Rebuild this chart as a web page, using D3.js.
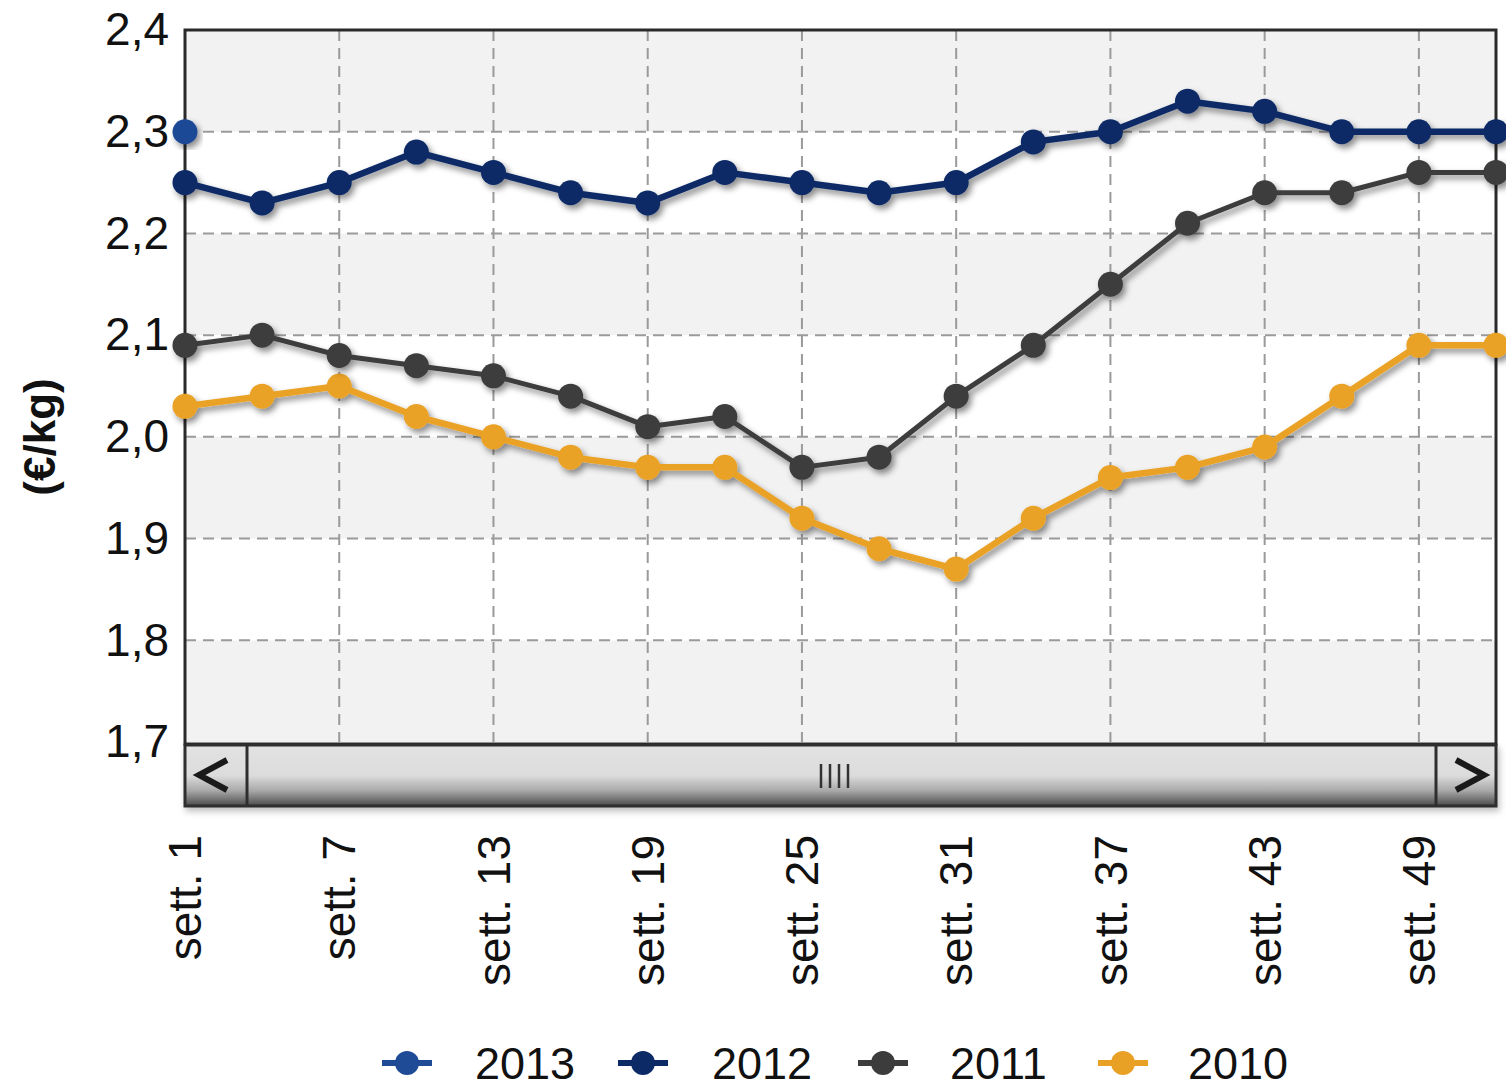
<!DOCTYPE html>
<html><head><meta charset="utf-8">
<script src="https://cdn.jsdelivr.net/npm/d3@7"></script>
<style>
html,body{margin:0;padding:0;background:#fff;}
svg{display:block;font-family:"Liberation Sans",Arial,sans-serif;}
</style></head>
<body>
<svg id="c" width="1506" height="1088"></svg>
<script>
const weeks = [1,4,7,10,13,16,19,22,25,28,31,34,37,40,43,46,49,52];
const s2013 = [2.30];
const s2012 = [2.25,2.23,2.25,2.28,2.26,2.24,2.23,2.26,2.25,2.24,2.25,2.29,2.30,2.33,2.32,2.30,2.30,2.30];
const s2011 = [2.09,2.10,2.08,2.07,2.06,2.04,2.01,2.02,1.97,1.98,2.04,2.09,2.15,2.21,2.24,2.24,2.26,2.26];
const s2010 = [2.03,2.04,2.05,2.02,2.00,1.98,1.97,1.97,1.92,1.89,1.87,1.92,1.96,1.97,1.99,2.04,2.09,2.09];
const yTicks = [1.7,1.8,1.9,2.0,2.1,2.2,2.3,2.4];
const xTicks = [1,7,13,19,25,31,37,43,49];
const seriesNames = ["2013","2012","2011","2010"];
const colors = {"2013":"#1f4a96","2012":"#0b2a66","2011":"#3c3c3c","2010":"#e9a125"};
const yTitle = "(€/kg)";

const svg = d3.select("#c");
const L=185, R=1496, T=30, B=742;
const x = d3.scaleLinear().domain([1,52]).range([L,R]);
const y = d3.scaleLinear().domain([1.7,2.4]).range([B,T]);

const defs = svg.append("defs");
const f = defs.append("filter").attr("id","sh").attr("x","-20%").attr("y","-20%").attr("width","140%").attr("height","140%");
f.append("feDropShadow").attr("dx",3).attr("dy",4).attr("stdDeviation",3).attr("flood-color","#000").attr("flood-opacity",0.45);
const g1 = defs.append("linearGradient").attr("id","sb").attr("x1",0).attr("y1",0).attr("x2",0).attr("y2",1);
g1.append("stop").attr("offset","0%").attr("stop-color","#e2e2e2");
g1.append("stop").attr("offset","50%").attr("stop-color","#dcdcdc");
g1.append("stop").attr("offset","75%").attr("stop-color","#a8a8a8");
g1.append("stop").attr("offset","100%").attr("stop-color","#4a4a4a");
const fs = defs.append("filter").attr("id","sbsh").attr("x","-5%").attr("y","-20%").attr("width","110%").attr("height","160%");
fs.append("feDropShadow").attr("dx",2).attr("dy",4).attr("stdDeviation",3).attr("flood-color","#000").attr("flood-opacity",0.25);

// bands
for(let i=0;i<yTicks.length-1;i++){
  const lo=yTicks[i], hi=yTicks[i+1];
  svg.append("rect").attr("x",L).attr("y",y(hi)).attr("width",R-L).attr("height",y(lo)-y(hi))
    .attr("fill", (i%2===0)?"#f2f2f2":"#ffffff");
}
// grid
svg.append("g").selectAll("line").data(yTicks.slice(1,-1)).join("line")
  .attr("x1",L).attr("x2",R).attr("y1",d=>y(d)).attr("y2",d=>y(d))
  .attr("stroke","#9a9a9a").attr("stroke-width",2).attr("stroke-dasharray","11,7");
svg.append("g").selectAll("line").data(xTicks.slice(1)).join("line")
  .attr("x1",d=>x(d)).attr("x2",d=>x(d)).attr("y1",T).attr("y2",B)
  .attr("stroke","#9a9a9a").attr("stroke-width",2).attr("stroke-dasharray","11,7");
// border
svg.append("rect").attr("x",L).attr("y",T).attr("width",R-L).attr("height",B-T+2)
  .attr("fill","none").attr("stroke","#2a2a2a").attr("stroke-width",3);

// y axis labels
const yAxis = d3.axisLeft(y).tickValues(yTicks).tickSize(0).tickPadding(16)
  .tickFormat(d=>d3.format(".1f")(d).replace(".",","));
const ya = svg.append("g").attr("transform",`translate(${L},0)`).call(yAxis);
ya.select(".domain").remove();
ya.selectAll("text").attr("font-size",46).attr("fill","#111").attr("font-family","'Liberation Sans',Arial,sans-serif");

// y title
svg.append("text").attr("transform","translate(40,437) rotate(-90)").attr("text-anchor","middle")
  .attr("dy","0.35em").attr("font-size",44).attr("font-weight","bold").attr("fill","#111").text(yTitle);

// scrollbar
const sbT=745, sbB=806;
const sb = svg.append("g");
sb.append("rect").attr("x",L).attr("y",sbT).attr("width",R-L).attr("height",sbB-sbT)
  .attr("fill","url(#sb)").attr("stroke","#2e2e2e").attr("stroke-width",3).attr("filter","url(#sbsh)");
sb.append("line").attr("x1",247).attr("x2",247).attr("y1",sbT).attr("y2",sbB).attr("stroke","#2e2e2e").attr("stroke-width",3);
sb.append("line").attr("x1",1436).attr("x2",1436).attr("y1",sbT).attr("y2",sbB).attr("stroke","#2e2e2e").attr("stroke-width",3);
sb.append("path").attr("d","M227,760 L199,775 L227,790").attr("fill","none").attr("stroke","#1a1a1a").attr("stroke-width",6);
sb.append("path").attr("d","M1456,760 L1484,775 L1456,790").attr("fill","none").attr("stroke","#1a1a1a").attr("stroke-width",6);
[821,830,839,848].forEach(gx=>{
  sb.append("line").attr("x1",gx).attr("x2",gx).attr("y1",764).attr("y2",788).attr("stroke","#333").attr("stroke-width",2.5);
});

// x labels
const xa = svg.append("g");
xa.selectAll("text").data(xTicks).join("text")
  .attr("transform",d=>`translate(${x(d)},835) rotate(-90)`)
  .attr("text-anchor","end").attr("dy","0.35em").attr("font-size",46).attr("fill","#111")
  .text(d=>"sett. "+d);

// series
const data = {"2013":s2013,"2012":s2012,"2011":s2011,"2010":s2010};
const widths = {"2013":6,"2012":6.5,"2011":5,"2010":6.5};
const line = d3.line().x(d=>x(d.w)).y(d=>y(d.v));
["2010","2011","2012","2013"].forEach(name=>{
  const pts = data[name].map((v,i)=>({w:weeks[i],v:v}));
  const g = svg.append("g").attr("filter","url(#sh)");
  if(pts.length>1){
    g.append("path").datum(pts).attr("d",line).attr("fill","none")
      .attr("stroke",colors[name]).attr("stroke-width",widths[name]).attr("stroke-linejoin","round");
  }
  g.selectAll("circle").data(pts).join("circle").attr("cx",d=>x(d.w)).attr("cy",d=>y(d.v))
    .attr("r",12.5).attr("fill",colors[name]);
});

// legend
const legX = [382,618,858,1098];
const leg = svg.append("g");
seriesNames.forEach((name,i)=>{
  const lx = legX[i], ly = 1063;
  const gg = leg.append("g");
  gg.append("line").attr("x1",lx).attr("x2",lx+50).attr("y1",ly).attr("y2",ly).attr("stroke",colors[name]).attr("stroke-width",6);
  gg.append("circle").attr("cx",lx+25).attr("cy",ly).attr("r",12).attr("fill",colors[name]);
  gg.append("text").attr("x",lx+(i===0?93:i===1?94:i===2?92:90)).attr("y",ly).attr("dy","0.36em")
    .attr("font-size",45).attr("fill","#111").text(name);
});
</script>
</body></html>
